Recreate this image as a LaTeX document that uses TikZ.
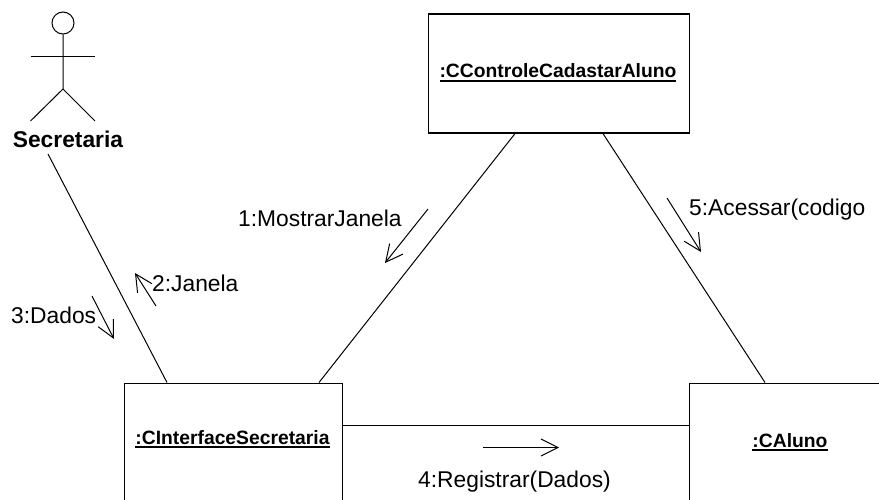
\documentclass[tikz,border=0pt]{standalone}
\usepackage{fontspec}
\setmainfont{Liberation Sans}
\usetikzlibrary{arrows.meta,calc}
\newcommand\umlul[1]{\setbox0\hbox{#1}\rlap{\rule[-3.6pt]{\wd0}{1.8pt}}\box0}
\tikzset{
  x=1pt,y=-1pt,
  line/.style={draw=black,line width=1pt},
  objbox/.style={draw=black,line width=1.1pt,rectangle,anchor=north west,inner sep=0pt},
  objtext/.style={anchor=base,inner sep=0pt,font=\fontsize{19.3pt}{22pt}\selectfont\bfseries},
  msg/.style={anchor=base west,inner sep=0pt,font=\fontsize{22.8pt}{26pt}\selectfont},
  flow/.style={line,-{Straight Barb[length=17pt,width=17pt,line width=1pt]}},
}
\begin{document}
\begin{tikzpicture}
\useasboundingbox (0,0) rectangle (879,500);
\clip (0,0) rectangle (879,500);
\fill[white] (0,0) rectangle (879,500);
% objects
\node[objbox,minimum width=261pt,minimum height=119pt] (ctrl) at (428,13.5) {};
\node[objbox,minimum width=218pt,minimum height=200pt] (ifc) at (124,382.5) {};
\node[objbox,minimum width=300pt,minimum height=200pt] (alu) at (689,382.5) {};
\node[objtext] (ctrlt) at (558,78) {\umlul{:CControleCadastarAluno}};
\node[objtext] (ifct) at (232.5,444) {\umlul{:CInterfaceSecretaria}};
\node[objtext] (alut) at (790,447) {\umlul{:CAluno}};
% actor
\node[draw=black,line width=1pt,circle,minimum size=22pt,inner sep=0pt] (head) at (63,23) {};
\coordinate (hip) at (63,89);
\coordinate (armL) at (30.5,56.5);
\coordinate (armR) at (95,56.5);
\coordinate (legL) at (30.5,121);
\coordinate (legR) at (95,121);
\draw[line] (head) -- (hip) -- (legL);
\draw[line] (hip) -- (legR);
\draw[line] (armL) -- (armR);
\node[anchor=base,inner sep=0pt,font=\fontsize{22.8pt}{26pt}\selectfont\bfseries] (sec) at (68,148) {Secretaria};
% associations
\coordinate (secEnd) at (48,154);
\draw[line] (secEnd) -- ($(ifc.north west)+(43,0)$);
\draw[line] ($(ctrl.south west)+(87,0)$) -- ($(ifc.north west)+(195,0)$);
\draw[line] ($(ctrl.south west)+(175,0)$) -- ($(alu.north west)+(76,0)$);
\draw[line] ($(ifc.north east)+(0,43)$) -- ($(alu.north west)+(0,43)$);
% messages
\node[msg] (m1) at (238,226) {1:MostrarJanela};
\node[msg] (m2) at (152,291) {2:Janela};
\node[msg] (m3) at (11,323) {3:Dados};
\node[msg] (m4) at (418,487) {4:Registrar(Dados)};
\node[msg] (m5) at (689,215) {5:Acessar(codigo};
\coordinate (a1s) at (428,209); \coordinate (a1e) at (385,263);
\coordinate (a2s) at (156,306); \coordinate (a2e) at (135,273);
\coordinate (a3s) at (92,296);  \coordinate (a3e) at (114,339);
\coordinate (a4s) at (483,447.5); \coordinate (a4e) at (559,447.5);
\coordinate (a5s) at (667,198); \coordinate (a5e) at (701,252);
\draw[flow] (a1s) -- (a1e);
\draw[flow] (a2s) -- (a2e);
\draw[flow] (a3s) -- (a3e);
\draw[flow] (a4s) -- (a4e);
\draw[flow] (a5s) -- (a5e);
\end{tikzpicture}
\end{document}
